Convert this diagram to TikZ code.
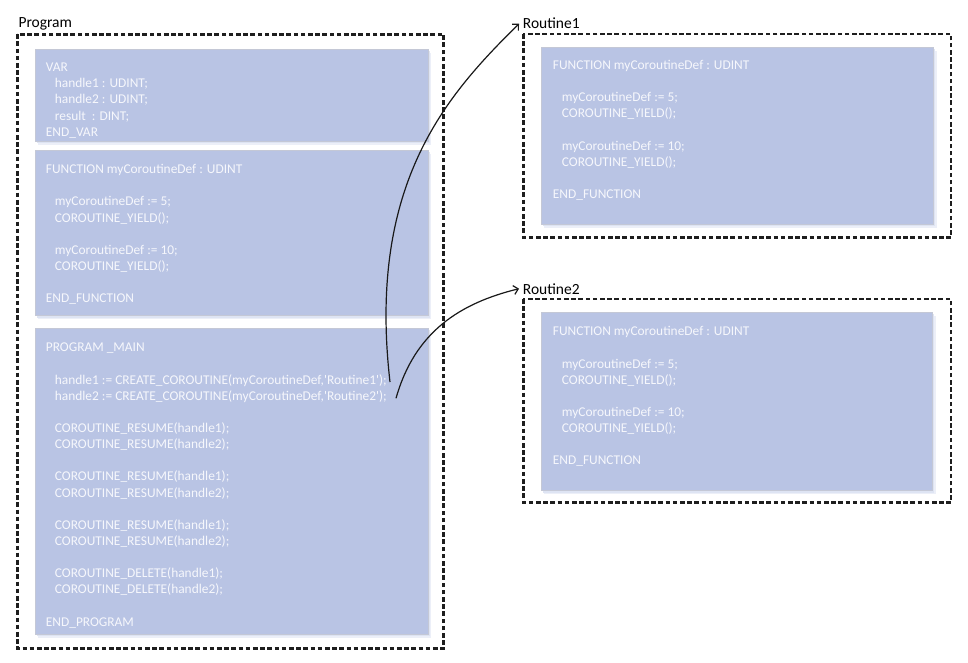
\documentclass[tikz,border=0pt]{standalone}
\usepackage{fontspec}
\setmainfont{Carlito}
\newfontfamily\codefont{Carlito}[Ligatures=TeXOff]
\usetikzlibrary{arrows.meta}
\definecolor{boxblue}{RGB}{185,196,228}
\definecolor{boxedge}{RGB}{196,200,214}
\definecolor{shadowA}{RGB}{236,239,248}
\definecolor{shadowB}{RGB}{222,228,243}
\definecolor{codewhite}{RGB}{246,247,252}
\definecolor{framegray}{RGB}{30,30,30}
\definecolor{arrowgray}{RGB}{25,25,25}
\tikzset{
  frame/.style={draw=framegray, line width=2.6pt, dash pattern=on 4.6pt off 2.6pt},
  codebox/.style={fill=boxblue, draw=boxedge, line width=0.6pt},
  shadowa/.style={fill=shadowA},
  shadowb/.style={fill=shadowB},
  codetext/.style={anchor=base west, inner sep=0pt, text=codewhite,
    font=\codefont\fontsize{13.4}{16.15}\selectfont},
  titlelabel/.style={anchor=base west, inner xsep=3.7pt, inner ysep=0pt, text=black,
    font=\fontsize{15.5}{18}\selectfont},
  callarrow/.style={draw=arrowgray, line width=1.2pt, -{Straight Barb[length=4.5pt,width=9pt]}}
}
\newcommand{\ind}{\hspace*{9pt}}
\newcommand{\cl}[4]{\node[codetext] (#1) at (#2,#3) {#4};}
\newcommand{\codebx}[4]{%
  \fill[shadowa] (#1+3,#2+3.5) rectangle (#3+3,#4+3.5);
  \fill[shadowb] (#1+1.5,#2+1.8) rectangle (#3+1.5,#4+1.8);
  \draw[codebox] (#1,#2) rectangle (#3,#4);}
\begin{document}
\begin{tikzpicture}[x=1pt,y=-1pt]
\useasboundingbox (0,0) rectangle (968,663);
\fill[white] (0,0) rectangle (968,663);

% ---------- Program frame ----------
\node[titlelabel, inner xsep=0pt] (proglabel) at (18.3,27.3) {Program};
\draw[frame] (17.3,34.3) rectangle (443.7,648.3);

\codebx{35}{49.3}{428}{141.7}
\codebx{35}{150.3}{428}{315.7}
\codebx{35}{328.3}{428}{634}

\cl{v1}{45.7}{71.7}{VAR}
\cl{v2}{45.7}{87.85}{\ind handle1 : UDINT;}
\cl{v3}{45.7}{104}{\ind handle2 : UDINT;}
\cl{v4}{45.7}{120.15}{\ind result\ \ : DINT;}
\cl{v5}{45.7}{136.3}{END\_VAR}

\cl{f1}{45.7}{173.7}{FUNCTION myCoroutineDef : UDINT}
\cl{f2}{45.7}{205.9}{\ind myCoroutineDef := 5;}
\cl{f3}{45.7}{222.05}{\ind COROUTINE\_YIELD();}
\cl{f4}{45.7}{254.35}{\ind myCoroutineDef := 10;}
\cl{f5}{45.7}{270.5}{\ind COROUTINE\_YIELD();}
\cl{f6}{45.7}{302.8}{END\_FUNCTION}

\cl{p1}{45.7}{351.7}{PROGRAM \_MAIN}
\cl{p2}{45.7}{384}{\ind handle1 := CREATE\_COROUTINE(myCoroutineDef,'Routine1');}
\cl{p3}{45.7}{400.15}{\ind handle2 := CREATE\_COROUTINE(myCoroutineDef,'Routine2');}
\cl{p4}{45.7}{432.45}{\ind COROUTINE\_RESUME(handle1);}
\cl{p5}{45.7}{448.6}{\ind COROUTINE\_RESUME(handle2);}
\cl{p6}{45.7}{480.9}{\ind COROUTINE\_RESUME(handle1);}
\cl{p7}{45.7}{497.05}{\ind COROUTINE\_RESUME(handle2);}
\cl{p8}{45.7}{529.35}{\ind COROUTINE\_RESUME(handle1);}
\cl{p9}{45.7}{545.5}{\ind COROUTINE\_RESUME(handle2);}
\cl{p10}{45.7}{577.8}{\ind COROUTINE\_DELETE(handle1);}
\cl{p11}{45.7}{593.95}{\ind COROUTINE\_DELETE(handle2);}
\cl{p12}{45.7}{626.25}{END\_PROGRAM}

% ---------- Routine1 ----------
\node[titlelabel] (r1label) at (519,29) {Routine1};
\draw[frame] (523.3,34) rectangle (951,237.3);
\codebx{541}{47.3}{933.7}{224}
\cl{a1}{552.7}{69.3}{FUNCTION myCoroutineDef : UDINT}
\cl{a2}{552.7}{101.6}{\ind myCoroutineDef := 5;}
\cl{a3}{552.7}{117.75}{\ind COROUTINE\_YIELD();}
\cl{a4}{552.7}{150.05}{\ind myCoroutineDef := 10;}
\cl{a5}{552.7}{166.2}{\ind COROUTINE\_YIELD();}
\cl{a6}{552.7}{198.5}{END\_FUNCTION}

% ---------- Routine2 ----------
\node[titlelabel] (r2label) at (519,294) {Routine2};
\draw[frame] (523.3,299) rectangle (951,502.3);
\codebx{541}{312.3}{932.7}{490.7}
\cl{b1}{552.7}{335.7}{FUNCTION myCoroutineDef : UDINT}
\cl{b2}{552.7}{368}{\ind myCoroutineDef := 5;}
\cl{b3}{552.7}{384.15}{\ind COROUTINE\_YIELD();}
\cl{b4}{552.7}{416.45}{\ind myCoroutineDef := 10;}
\cl{b5}{552.7}{432.6}{\ind COROUTINE\_YIELD();}
\cl{b6}{552.7}{464.9}{END\_FUNCTION}

% ---------- connectors ----------
\coordinate (s1) at (390,382);
\coordinate (s2) at (396,398.3);
\draw[callarrow] (s1) .. controls (367,182) and (448,94) .. (r1label.west);
\draw[callarrow] (s2) .. controls (415,331) and (461,303) .. (r2label.west);
\end{tikzpicture}
\end{document}
